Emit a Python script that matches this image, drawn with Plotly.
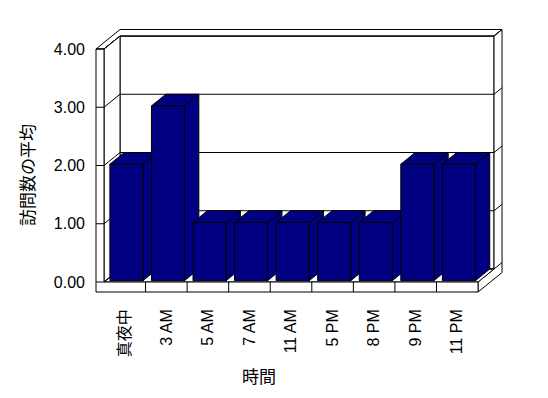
import plotly.graph_objects as go

# ---------------- data ----------------
categories = ["真夜中", "3 AM", "5 AM", "7 AM", "11 AM", "5 PM", "8 PM", "9 PM", "11 PM"]
visits = [2, 3, 1, 1, 1, 1, 1, 2, 2]
y_ticks = [0, 1, 2, 3, 4]
y_tick_labels = ["0.00", "1.00", "2.00", "3.00", "4.00"]
x_title = "時間"
y_title = "訪問数の平均"

# ---------------- layout / style (pixels) ----------------
W, H = 548, 398
X0_PX, CAT_PX = 104, 41.56      # front-plane x origin and category width
Y0_PX, UNIT_PX = 282, 58.25     # front-plane y origin and px per value unit
DEPTH_PX = (16, 13)             # interior depth offset (right, up)
WALL_PX = 8                     # left wall thickness
FLOOR_PX = 10                   # floor thickness
BACK_T = 0.5                    # back wall thickness as fraction of depth
BAR_W = 0.794                   # bar width as fraction of category
BAR_D0, BAR_D1 = 0.1, 1.0       # bar depth span
PLOT_L, PLOT_R, PLOT_T, PLOT_B = 92, 506, 26, 296
BAR_COLOR = "#000080"
FONT = "Liberation Sans, Noto Sans CJK JP, sans-serif"

n = len(categories)
ymax = max(y_ticks)
DX = DEPTH_PX[0] / CAT_PX
DY = DEPTH_PX[1] / UNIT_PX
WL = WALL_PX / CAT_PX
FL = FLOOR_PX / UNIT_PX


def px2x(p):
    return (p - X0_PX) / CAT_PX


def py2y(p):
    return (Y0_PX - p) / UNIT_PX


def P(x, y, d):
    return (x + d * DX, y + d * DY)


fig = go.Figure()


def poly(pts, fill="white"):
    xs = [p[0] for p in pts] + [pts[0][0]]
    ys = [p[1] for p in pts] + [pts[0][1]]
    fig.add_trace(go.Scatter(x=xs, y=ys, mode="lines", fill="toself",
                             fillcolor=fill, line=dict(color="black", width=1),
                             hoverinfo="skip", showlegend=False))


def lines(segs):
    xs, ys = [], []
    for a, b in segs:
        xs += [a[0], b[0], None]
        ys += [a[1], b[1], None]
    fig.add_trace(go.Scatter(x=xs, y=ys, mode="lines",
                             line=dict(color="black", width=1),
                             hoverinfo="skip", showlegend=False))


D2 = 1 + BACK_T
# back wall (inner face)
poly([P(0, 0, 1), P(n, 0, 1), P(n, ymax, 1), P(0, ymax, 1)])
# top of left wall + back wall
poly([P(-WL, ymax, 0), P(0, ymax, 0), P(0, ymax, 1), P(n, ymax, 1),
      P(n, ymax, D2), P(-WL, ymax, D2)])
# right face of back wall + floor
poly([P(n, -FL, 0), P(n, -FL, D2), P(n, ymax, D2), P(n, ymax, 1),
      P(n, 0, 1), P(n, 0, 0)])
# left wall inner face
poly([P(0, 0, 0), P(0, 0, 1), P(0, ymax, 1), P(0, ymax, 0)])
# floor top
poly([P(0, 0, 0), P(n, 0, 0), P(n, 0, 1), P(0, 0, 1)])
# front faces of floor and left wall
poly([P(-WL, -FL, 0), P(n, -FL, 0), P(n, 0, 0), P(0, 0, 0),
      P(0, ymax, 0), P(-WL, ymax, 0)])

# gridlines and ticks
segs = []
for v in y_ticks:
    segs.append((P(0, v, 1), P(n, v, 1)))
    segs.append((P(0, v, 0), P(0, v, 1)))
    segs.append((P(-WL, v, 0), P(0, v, 0)))
    segs.append((P(n, v, 1), P(n, v, D2)))
for i in range(1, n):
    segs.append((P(i, -FL, 0), P(i, 0, 0)))
lines(segs)

# bars
hw = BAR_W / 2
for i, v in enumerate(visits):
    c = i + 0.5
    xl, xr = c - hw, c + hw
    poly([P(xr, 0, BAR_D0), P(xr, 0, BAR_D1), P(xr, v, BAR_D1), P(xr, v, BAR_D0)], BAR_COLOR)
    poly([P(xl, v, BAR_D0), P(xr, v, BAR_D0), P(xr, v, BAR_D1), P(xl, v, BAR_D1)], BAR_COLOR)
    poly([P(xl, 0, BAR_D0), P(xr, 0, BAR_D0), P(xr, v, BAR_D0), P(xl, v, BAR_D0)], BAR_COLOR)

pw = PLOT_R - PLOT_L
ph = PLOT_B - PLOT_T

fig.update_layout(
    width=W, height=H, autosize=False,
    margin=dict(l=PLOT_L, r=W - PLOT_R, t=PLOT_T, b=H - PLOT_B, pad=0),
    paper_bgcolor="white", plot_bgcolor="white",
    font=dict(family=FONT, size=16, color="black"),
    xaxis=dict(range=[px2x(PLOT_L), px2x(PLOT_R)], showgrid=False, zeroline=False,
               showline=False, tickvals=[i + 0.5 for i in range(n)], ticktext=categories,
               tickangle=-90, ticks="", ticklabelstandoff=9, fixedrange=True),
    yaxis=dict(range=[py2y(PLOT_B), py2y(PLOT_T)], showgrid=False, zeroline=False,
               showline=False, tickvals=y_ticks, ticktext=y_tick_labels,
               ticks="", ticklabelstandoff=6, fixedrange=True),
    annotations=[
        dict(text=x_title, xref="paper", yref="paper",
             x=(259 - PLOT_L) / pw, y=(PLOT_B - 377) / ph,
             showarrow=False, font=dict(size=17), xanchor="center", yanchor="middle"),
        dict(text=y_title, xref="paper", yref="paper",
             x=(28 - PLOT_L) / pw, y=(PLOT_B - 175) / ph, textangle=-90,
             showarrow=False, font=dict(size=17), xanchor="center", yanchor="middle"),
    ],
)

fig.write_html("out.html", config={"displayModeBar": False})
